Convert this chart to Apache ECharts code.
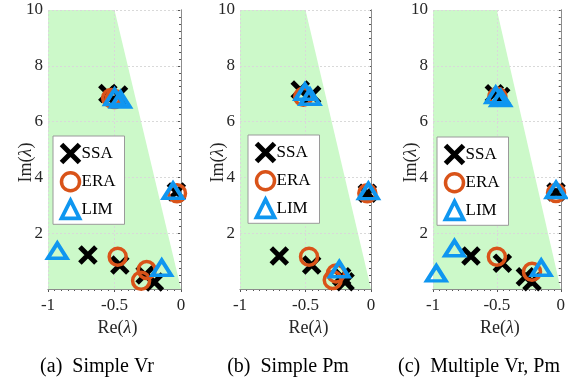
<!DOCTYPE html>
<html>
<head>
<meta charset="utf-8">
<script src="https://cdn.jsdelivr.net/npm/echarts@6/dist/echarts.min.js"></script>
<style>html,body{margin:0;padding:0;background:#fff;}#c{width:568px;height:385px;}</style>
</head>
<body>
<div id="c"></div>
<script>
// ---- data (Re, Im) ----
const stableRegion = [[-1, 0], [-1, 10], [-0.5, 10], [0, 0]];
const xTickLabels = ['-1', '-0.5', '0'];
const yTickLabels = ['2', '4', '6', '8', '10'];
const captions = ['(a)  Simple Vr', '(b)  Simple Pm', '(c)  Multiple Vr, Pm'];
const methods = ['SSA', 'ERA', 'LIM'];

const ssaA = [[-0.70, 1.22], [-0.46, 0.86], [-0.27, 0.50], [-0.20, 0.25], [-0.55, 7.01], [-0.47, 6.95], [-0.035, 3.48]];
const eraA = [[-0.476, 1.16], [-0.258, 0.68], [-0.30, 0.30], [-0.525, 6.85], [-0.50, 6.81], [-0.03, 3.43]];
const limA = [[-0.93, 1.37], [-0.145, 0.76], [-0.50, 6.88], [-0.455, 6.79], [-0.06, 3.52]];

const ssaB = [[-0.70, 1.18], [-0.453, 0.86], [-0.224, 0.44], [-0.198, 0.26], [-0.54, 7.13], [-0.453, 6.95], [-0.028, 3.43]];
const eraB = [[-0.473, 1.16], [-0.267, 0.56], [-0.292, 0.32], [-0.517, 6.89], [-0.028, 3.43]];
const limB = [[-0.242, 0.71], [-0.504, 7.07], [-0.466, 6.89], [-0.02, 3.51]];

const ssaC = [[-0.703, 1.18], [-0.457, 0.92], [-0.277, 0.44], [-0.225, 0.26], [-0.52, 7.0], [-0.47, 6.9], [-0.037, 3.48]];
const eraC = [[-0.50, 1.16], [-0.225, 0.62], [-0.496, 6.89], [-0.037, 3.44]];
const limC = [[-0.974, 0.56], [-0.832, 1.46], [-0.153, 0.76], [-0.509, 6.95], [-0.47, 6.84], [-0.037, 3.55]];

const panels = [
  {ssa: ssaA, era: eraA, lim: limA},
  {ssa: ssaB, era: eraB, lim: limB},
  {ssa: ssaC, era: eraC, lim: limC}
];

// ---- layout ----
const FONT = 'Liberation Serif, Times New Roman, serif';
const grids = [
  {left: 48, top: 10, width: 133, height: 279},
  {left: 240, top: 10, width: 131, height: 279},
  {left: 433, top: 10, width: 129, height: 279}
];
const legendPos = [{left: 53, top: 136}, {left: 248, top: 135}, {left: 437, top: 137}];
const captionX = [97, 288, 479];
const strokeW = {SSA: 5, ERA: 3.5, LIM: 3.8};

const xAxes = [], yAxes = [], series = [], legends = [], graphics = [];
grids.forEach((g, i) => {
  xAxes.push({
    gridIndex: i, type: 'value', min: -1, max: 0, interval: 0.5, z: 3,
    axisLine: {show: true, lineStyle: {color: '#8c8c8c', width: 1}},
    axisTick: {show: false},
    axisLabel: {color: '#262626', fontFamily: FONT, fontSize: 17, margin: 8,
      formatter: (v) => xTickLabels[Math.round((v + 1) / 0.5)]},
    splitLine: {show: true, lineStyle: {color: '#d9d9d9', type: [2, 2], width: 1}},
    name: 'Re({i|λ})', nameLocation: 'middle', nameGap: 30, nameMoveOverlap: false,
    nameTextStyle: {color: '#262626', fontFamily: FONT, fontSize: 18, padding: [0, 0, 0, 6],
      rich: {i: {fontStyle: 'italic', fontFamily: FONT, fontSize: 18, color: '#262626'}}}
  });
  yAxes.push({
    gridIndex: i, type: 'value', min: 0, max: 10, interval: 2, z: 3,
    axisLine: {show: true, lineStyle: {color: '#8c8c8c', width: 1}},
    axisTick: {show: false},
    axisLabel: {color: '#262626', fontFamily: FONT, fontSize: 17, margin: 5, showMinLabel: false,
      formatter: (v) => v === 0 ? '' : yTickLabels[v / 2 - 1]},
    splitLine: {show: true, lineStyle: {color: '#d9d9d9', type: [2, 2], width: 1}},
    name: 'Im({i|λ})', nameLocation: 'middle', nameGap: 13, nameRotate: 90, nameMoveOverlap: false,
    nameTextStyle: {color: '#262626', fontFamily: FONT, fontSize: 18, padding: [0, 26, 0, 0],
      rich: {i: {fontStyle: 'italic', fontFamily: FONT, fontSize: 18, color: '#262626'}}}
  });
});
grids.forEach((g, i) => {
  xAxes.push({
    gridIndex: i, type: 'value', position: 'top', min: -1, max: 0, interval: 0.5, z: 1,
    axisLine: {show: true, lineStyle: {color: '#bdbdbd', width: 1}},
    axisTick: {show: true, inside: true, length: 3, lineStyle: {color: '#555'}},
    minorTick: {show: true, splitNumber: 10, length: 2, lineStyle: {color: '#555'}},
    axisLabel: {show: false}, splitLine: {show: false}
  });
  yAxes.push({
    gridIndex: i, type: 'value', position: 'right', min: 0, max: 10, interval: 2, z: 1,
    axisLine: {show: true, lineStyle: {color: '#8c8c8c', width: 1}},
    axisTick: {show: true, inside: true, length: 3, lineStyle: {color: '#555'}},
    minorTick: {show: true, splitNumber: 8, length: 2, lineStyle: {color: '#555'}},
    axisLabel: {show: false}, splitLine: {show: false}
  });
});

const xSymbol = 'path://M0,0L10,10M10,0L0,10';
panels.forEach((p, i) => {
  series.push({
    type: 'custom', xAxisIndex: i, yAxisIndex: i, z: 1, silent: true, data: [0],
    renderItem: (params, api) => ({
      type: 'polygon',
      shape: {points: stableRegion.map(pt => api.coord(pt))},
      style: {fill: '#ccf9c9', stroke: null}
    })
  });
  series.push({
    name: 'SSA', type: 'scatter', xAxisIndex: i, yAxisIndex: i, clip: false, z: 3,
    symbol: xSymbol, symbolSize: 16, data: p.ssa,
    itemStyle: {color: 'rgba(0,0,0,0)', borderColor: '#000', borderWidth: strokeW.SSA, opacity: 1}
  });
  series.push({
    name: 'ERA', type: 'scatter', xAxisIndex: i, yAxisIndex: i, clip: false, z: 4,
    symbol: 'circle', symbolSize: 17, data: p.era,
    itemStyle: {color: 'rgba(0,0,0,0)', borderColor: '#d95319', borderWidth: strokeW.ERA, opacity: 1}
  });
  series.push({
    name: 'LIM', type: 'scatter', xAxisIndex: i, yAxisIndex: i, clip: false, z: 5,
    symbol: 'triangle', symbolSize: [19, 15], data: p.lim,
    itemStyle: {color: 'rgba(0,0,0,0)', borderColor: '#0f96f0', borderWidth: strokeW.LIM, borderJoin: 'miter', opacity: 1}
  });
  legends.push({
    left: legendPos[i].left, top: legendPos[i].top, orient: 'vertical',
    data: methods.map(m => ({name: m, itemStyle: {borderWidth: strokeW[m]}})), selectedMode: false,
    itemWidth: 18, itemHeight: 18, itemGap: 6,
    padding: [6, 9, 4, 6],
    backgroundColor: '#fff', borderColor: '#9a9a9a', borderWidth: 1,
    textStyle: {fontFamily: FONT, fontSize: 17, lineHeight: 18, color: '#000', padding: [0, 0, 0, -3]}
  });
  graphics.push({
    type: 'text', x: captionX[i], y: 367,
    style: {text: captions[i], font: '20px ' + FONT, fill: '#000', align: 'center', verticalAlign: 'middle'}
  });
});

const chart = echarts.init(document.getElementById('c'), null, {renderer: 'canvas'});
chart.setOption({
  animation: false,
  backgroundColor: '#fff',
  grid: grids,
  xAxis: xAxes,
  yAxis: yAxes,
  legend: legends,
  series: series,
  graphic: graphics
});
</script>
</body>
</html>
